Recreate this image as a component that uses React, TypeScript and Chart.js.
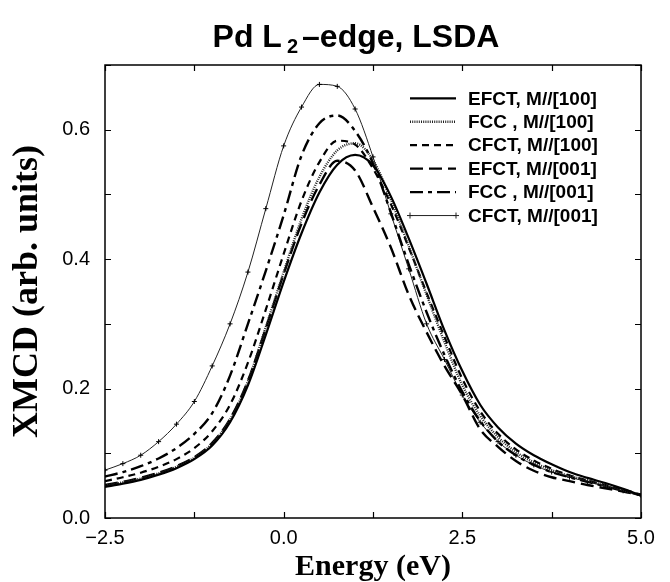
import React, { useEffect, useRef } from 'react';
import { Chart, registerables } from 'chart.js';

Chart.register(...registerables);

// ---- data ----
const energies = [
  -2.5, -2.25, -2.0, -1.75, -1.5, -1.25, -1.0, -0.75, -0.5, -0.25, 0.0, 0.25, 0.5, 0.75, 1.0, 1.25,
  1.5, 1.75, 2.0, 2.25, 2.5, 2.75, 3.0, 3.25, 3.5, 3.75, 4.0, 4.25, 4.5, 4.75, 5.0,
];

const efct100 = [
  0.048, 0.053, 0.059, 0.067, 0.077, 0.091, 0.112, 0.148, 0.205, 0.283, 0.365, 0.44, 0.503, 0.546, 0.561, 0.545,
  0.497, 0.432, 0.362, 0.29, 0.227, 0.175, 0.14, 0.115, 0.097, 0.083, 0.071, 0.062, 0.054, 0.045, 0.035,
];
const fcc100 = [
  0.05, 0.055, 0.061, 0.069, 0.079, 0.093, 0.115, 0.152, 0.211, 0.295, 0.38, 0.462, 0.527, 0.568, 0.579, 0.553,
  0.492, 0.42, 0.345, 0.272, 0.205, 0.158, 0.125, 0.102, 0.086, 0.074, 0.065, 0.058, 0.05, 0.043, 0.035,
];
const cfct100 = [
  0.057, 0.063, 0.07, 0.079, 0.091, 0.108, 0.134, 0.175, 0.24, 0.322, 0.408, 0.49, 0.55, 0.583, 0.577, 0.54,
  0.485, 0.418, 0.348, 0.28, 0.215, 0.165, 0.13, 0.106, 0.089, 0.076, 0.066, 0.058, 0.051, 0.044, 0.036,
];
const efct001 = [
  0.051, 0.056, 0.062, 0.07, 0.08, 0.094, 0.116, 0.153, 0.212, 0.293, 0.377, 0.455, 0.515, 0.552, 0.537, 0.48,
  0.418, 0.345, 0.287, 0.235, 0.19, 0.137, 0.11, 0.088, 0.073, 0.063, 0.057, 0.051, 0.046, 0.041, 0.035,
];
const fcc001 = [
  0.064, 0.071, 0.08, 0.092, 0.108, 0.13, 0.162, 0.22, 0.3, 0.382, 0.468, 0.56, 0.61, 0.622, 0.598, 0.548,
  0.472, 0.392, 0.318, 0.252, 0.195, 0.15, 0.118, 0.097, 0.082, 0.071, 0.063, 0.056, 0.049, 0.042, 0.035,
];
const cfct001 = [
  0.074, 0.084, 0.097, 0.118, 0.145, 0.18, 0.235, 0.3, 0.38, 0.478, 0.575, 0.635, 0.67, 0.667, 0.632, 0.558,
  0.47, 0.385, 0.3, 0.245, 0.19, 0.148, 0.118, 0.097, 0.082, 0.071, 0.063, 0.056, 0.049, 0.042, 0.035,
];

const seriesLabels = [
  'EFCT, M//[100]',
  'FCC , M//[100]',
  'CFCT, M//[100]',
  'EFCT, M//[001]',
  'FCC , M//[001]',
  'CFCT, M//[001]',
];
const seriesValues = [efct100, fcc100, cfct100, efct001, fcc001, cfct001];

const xTickValues = [-2.5, 0, 2.5, 5];
const xMinorTicks = [-1.25, 1.25, 3.75];
const yTickValues = [0, 0.2, 0.4, 0.6];
const yMinorTicks = [0.1, 0.3, 0.5, 0.7];

const titleMain = 'Pd L';
const titleSub = '2';
const titleRest = '\u2013edge, LSDA';
const xTitle = 'Energy (eV)';
const yTitle = 'XMCD (arb. units)';

// ---- styles ----
const seriesStyles = [
  { dash: [] as number[], width: 2.2, color: '#000', cross: false },
  { dash: [1, 1.2], width: 2.4, color: '#222', cross: false },
  { dash: [7, 5], width: 2.2, color: '#000', cross: false },
  { dash: [13, 6], width: 2.4, color: '#000', cross: false },
  { dash: [13, 5, 4, 5], width: 2.4, color: '#000', cross: false },
  { dash: [] as number[], width: 1, color: '#222', cross: true },
];

const SANS = "'Liberation Sans', Arial, Helvetica, sans-serif";
const SERIF = "'Liberation Serif', 'Times New Roman', Times, serif";

const fmt = (v: number) => (v < 0 ? '\u2212' + Math.abs(v).toFixed(1) : v.toFixed(1));

const decorPlugin = {
  id: 'decor',
  afterDraw(chart: any) {
    const ctx: CanvasRenderingContext2D = chart.ctx;
    const { left, right, top, bottom } = chart.chartArea;
    const xs = chart.scales.x;
    const ys = chart.scales.y;
    ctx.save();
    // frame
    ctx.strokeStyle = '#000';
    ctx.lineWidth = 1.5;
    ctx.setLineDash([]);
    ctx.strokeRect(left, top, right - left, bottom - top);
    // inward ticks on all sides
    ctx.lineWidth = 1.2;
    const tl = 6;
    ctx.beginPath();
    [...xTickValues, ...xMinorTicks].forEach((v) => {
      const px = Math.round(xs.getPixelForValue(v)) + 0.5;
      ctx.moveTo(px, bottom);
      ctx.lineTo(px, bottom - tl);
      ctx.moveTo(px, top);
      ctx.lineTo(px, top + tl);
    });
    [...yTickValues, ...yMinorTicks].forEach((v) => {
      const py = Math.round(ys.getPixelForValue(v)) + 0.5;
      ctx.moveTo(left, py);
      ctx.lineTo(left + tl, py);
      ctx.moveTo(right, py);
      ctx.lineTo(right - tl, py);
    });
    ctx.stroke();

    // title
    ctx.fillStyle = '#000';
    ctx.textBaseline = 'alphabetic';
    ctx.textAlign = 'left';
    const bigFont = `bold 32px ${SANS}`;
    const subFont = `bold 20px ${SANS}`;
    ctx.font = bigFont;
    const w1 = ctx.measureText(titleMain).width;
    const w3 = ctx.measureText(titleRest).width;
    ctx.font = subFont;
    const w2 = ctx.measureText(titleSub).width;
    const gap1 = 5;
    const gap2 = 4;
    const total = w1 + gap1 + w2 + gap2 + w3;
    const cx = 356;
    const baseY = 47;
    let tx = cx - total / 2;
    ctx.font = bigFont;
    ctx.fillText(titleMain, tx, baseY);
    tx += w1 + gap1;
    ctx.font = subFont;
    ctx.fillText(titleSub, tx, baseY + 6);
    tx += w2 + gap2;
    ctx.font = bigFont;
    ctx.fillText(titleRest, tx, baseY);

    // legend inside the plot
    const lx0 = 410;
    const lx1 = 456;
    const textX = 468;
    const y0 = 98.3;
    const dy = 23.45;
    chart.data.datasets.forEach((ds: any, i: number) => {
      const st = seriesStyles[i];
      const y = y0 + i * dy;
      ctx.strokeStyle = st.color;
      ctx.lineWidth = st.width;
      ctx.setLineDash(st.dash);
      ctx.beginPath();
      ctx.moveTo(lx0, y);
      ctx.lineTo(lx1, y);
      ctx.stroke();
      ctx.setLineDash([]);
      if (st.cross) {
        ctx.lineWidth = 1;
        ctx.beginPath();
        [lx0, lx1].forEach((cxp) => {
          ctx.moveTo(cxp - 3, y);
          ctx.lineTo(cxp + 3, y);
          ctx.moveTo(cxp, y - 3);
          ctx.lineTo(cxp, y + 3);
        });
        ctx.stroke();
      }
      ctx.fillStyle = '#000';
      ctx.font = `bold 19px ${SANS}`;
      ctx.textBaseline = 'middle';
      ctx.fillText(ds.label, textX, y + 1);
    });
    ctx.restore();
  },
};

export default function App() {
  const canvasRef = useRef<HTMLCanvasElement | null>(null);

  useEffect(() => {
    const canvas = canvasRef.current;
    if (!canvas) return;
    const datasets = seriesLabels.map((label, i) => {
      const st = seriesStyles[i];
      return {
        label,
        data: energies.map((e, k) => ({ x: e, y: seriesValues[i][k] })),
        borderColor: st.color,
        backgroundColor: st.color,
        borderWidth: st.width,
        borderDash: st.dash,
        pointRadius: st.cross ? 2.5 : 0,
        pointStyle: st.cross ? 'cross' : 'circle',
        pointBorderWidth: 1,
        pointBorderColor: '#000',
        cubicInterpolationMode: 'monotone' as const,
        fill: false,
      };
    });
    const chart = new Chart(canvas, {
      type: 'line',
      data: { datasets },
      options: {
        responsive: false,
        animation: false,
        devicePixelRatio: 1,
        layout: { padding: { left: 0, top: 65, right: 29, bottom: 0 } },
        plugins: {
          legend: { display: false },
          title: { display: false },
          tooltip: { enabled: false },
        },
        scales: {
          x: {
            type: 'linear',
            min: -2.5,
            max: 5,
            afterBuildTicks: (s: any) => {
              s.ticks = xTickValues.map((v) => ({ value: v }));
            },
            afterFit: (s: any) => {
              s.height = 64;
            },
            grid: { display: false, drawTicks: false },
            border: { display: false },
            ticks: {
              autoSkip: false,
              maxRotation: 0,
              padding: 8,
              color: '#000',
              font: { family: SANS, size: 20, lineHeight: 1.2 },
              callback: (v: any) => fmt(Number(v)),
            },
            title: {
              display: true,
              text: xTitle,
              color: '#000',
              font: { family: SERIF, size: 30, weight: 'bold', lineHeight: 1 },
              padding: { top: 2, bottom: 0 },
            },
          },
          y: {
            type: 'linear',
            min: 0,
            max: 0.7,
            afterBuildTicks: (s: any) => {
              s.ticks = yTickValues.map((v) => ({ value: v }));
            },
            afterFit: (s: any) => {
              s.width = 105;
            },
            grid: { display: false, drawTicks: false },
            border: { display: false },
            ticks: {
              autoSkip: false,
              padding: 15,
              color: '#000',
              font: { family: SANS, size: 20 },
              callback: (v: any) => fmt(Number(v)),
            },
            title: {
              display: true,
              text: yTitle,
              color: '#000',
              font: { family: SERIF, size: 36, weight: 'bold', lineHeight: 1 },
              padding: { top: 10, bottom: 0 },
            },
          },
        },
      },
      plugins: [decorPlugin],
    });
    return () => chart.destroy();
  }, []);

  return (
    <div style={{ position: 'absolute', left: 0, top: 0, width: 670, height: 582, background: '#fff' }}>
      <canvas ref={canvasRef} width={670} height={582} style={{ width: 670, height: 582, display: 'block' }} />
    </div>
  );
}
